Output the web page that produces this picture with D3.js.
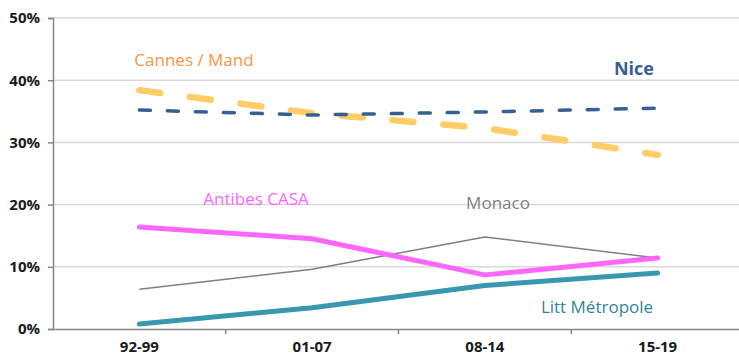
<!DOCTYPE html>
<html><head><meta charset="utf-8">
<script src="https://cdn.jsdelivr.net/npm/d3@7"></script>
<style>body{margin:0;background:#fff}svg{display:block}text{font-family:"Open Sans","DejaVu Sans",sans-serif}</style>
</head><body><svg id="c" width="739" height="358"></svg>
<script>
const categories = ["92-99","01-07","08-14","15-19"];
const yTicks = [0,0.1,0.2,0.3,0.4,0.5];
const nice = [0.352,0.344,0.349,0.355];
const cannes = [0.384,0.347,0.323,0.280];
const antibes = [0.164,0.145,0.087,0.114];
const monaco = [0.064,0.096,0.148,0.114];
const litt = [0.008,0.034,0.070,0.090];

const series = [
  {name:"Monaco", values:monaco, color:"#7f7f7f", width:1.5, dash:null, cap:"butt"},
  {name:"Litt Métropole", values:litt, color:"#3a97b0", width:5, dash:null, cap:"round"},
  {name:"Antibes CASA", values:antibes, color:"#ff66ff", width:5, dash:null, cap:"round"},
  {name:"Cannes / Mand", values:cannes, color:"#ffcc66", width:6.5, dash:"21,30", cap:"round"},
  {name:"Nice", values:nice, color:"#376092", width:3.5, dash:"11,17", cap:"round"}
];
const labels = [
  {text:"Cannes / Mand", x:194, y:66, color:"#f79646", bold:false, i:3},
  {text:"Nice", x:634, y:75, color:"#376092", bold:true, i:4},
  {text:"Antibes CASA", x:256, y:205, color:"#ff66ff", bold:false, i:2},
  {text:"Monaco", x:498, y:209, color:"#808080", bold:false, i:0},
  {text:"Litt Métropole", x:597, y:313, color:"#31859c", bold:false, i:1}
];

const svg = d3.select("#c");
const x0 = 53, x1 = 744, yTop = 18, yBot = 329;
const x = d3.scaleBand().domain(categories).range([x0, x1]);
const y = d3.scaleLinear().domain([0,0.5]).range([yBot, yTop]);

svg.append("g").selectAll("line").data(yTicks.filter(d=>d>0)).join("line")
  .attr("x1", x0).attr("x2", x1).attr("y1", d=>y(d)).attr("y2", d=>y(d))
  .attr("stroke","#d9d9d9").attr("stroke-width",1.5);

const ya = svg.append("g").attr("transform",`translate(${x0},0)`)
  .call(d3.axisLeft(y).tickValues(yTicks).tickFormat(d3.format(".0%")).tickSize(5).tickPadding(8));
ya.select(".domain").attr("stroke","#868686").attr("stroke-width",1.5);
ya.selectAll(".tick line").attr("stroke","#868686").attr("stroke-width",1.5);
ya.selectAll("text").attr("font-size",15).attr("font-weight","bold").attr("fill","#1a1a1a");

const xa = svg.append("g").attr("transform",`translate(0,${yBot})`)
  .call(d3.axisBottom(x).tickSize(0).tickPadding(12));
xa.select(".domain").attr("stroke","#868686").attr("stroke-width",1.5);
xa.selectAll("text").attr("font-size",15).attr("font-weight","bold").attr("fill","#1a1a1a");
const bounds = categories.map(c=>x(c)).concat([x1]).slice(1);
svg.append("g").selectAll("line").data(bounds).join("line")
  .attr("x1",d=>d).attr("x2",d=>d).attr("y1",yBot).attr("y2",yBot+5)
  .attr("stroke","#868686").attr("stroke-width",1.5);

const line = d3.line().x((d,i)=>x(categories[i])+x.bandwidth()/2).y(d=>y(d));
svg.append("g").selectAll("path").data(series).join("path")
  .attr("d", d=>line(d.values)).attr("fill","none")
  .attr("stroke", d=>d.color).attr("stroke-width", d=>d.width)
  .attr("stroke-dasharray", d=>d.dash).attr("stroke-linecap", d=>d.cap)
  .attr("stroke-linejoin","round");

svg.append("g").selectAll("text").data(labels).join("text")
  .attr("x",d=>d.x).attr("y",d=>d.y).attr("text-anchor","middle")
  .attr("fill",d=>d.color).attr("font-size",d=>d.bold?18:17)
  .attr("font-weight",d=>d.bold?"bold":"normal").text(d=>d.text);
</script></body></html>
